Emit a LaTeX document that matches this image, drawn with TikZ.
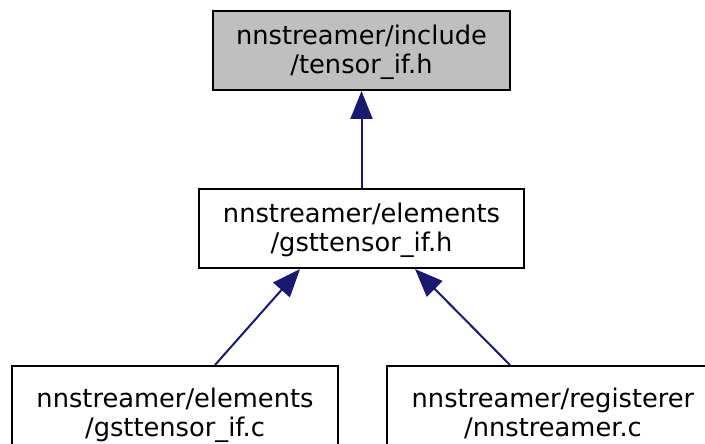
\documentclass[tikz,border=0pt]{standalone}
\usepackage{fontspec}
\setmainfont{DejaVu Sans}
\usetikzlibrary{arrows.meta,calc}
\definecolor{doxEdge}{RGB}{25, 25, 112}
\definecolor{doxGray}{RGB}{191, 191, 191}

\begin{document}
\begin{tikzpicture}[
  x=1pt, y=-1pt,
  file/.style={
    draw,
    line width=2pt,
    inner sep=0pt,
    minimum height=79pt,
    text height=49pt,
    text depth=3pt,
    align=center,
    font=\fontsize{25.7}{29}\selectfont
  },
  dep/.style={-{Triangle[length=28pt,width=22pt]},line width=2pt,doxEdge}
]
  \useasboundingbox (0,0) rectangle (705,444);
  \clip (0,0) rectangle (705,444);
  \node[file,fill=doxGray,minimum width=297pt] (tensorif) at (361.5,50.5) {nnstreamer/include\\/tensor\_if.h};
  \node[file,minimum width=325pt] (gsttensorifh) at (361.5,228.5) {nnstreamer/elements\\/gsttensor\_if.h};
  \node[file,minimum width=326pt,minimum height=94pt] (gsttensorifc) at (175,413) {nnstreamer/elements\\/gsttensor\_if.c};
  \node[file,minimum width=332pt,minimum height=94pt] (registerer) at (553,413) {nnstreamer/registerer\\/nnstreamer.c};
  \draw[dep] (gsttensorifh.north) -- (tensorif.south);
  \draw[dep] ([xshift=40pt]gsttensorifc.north) -- ([xshift=-61.5pt]gsttensorifh.south);
  \draw[dep] ([xshift=-43pt]registerer.north) -- ([xshift=53.5pt]gsttensorifh.south);
\end{tikzpicture}
\end{document}
